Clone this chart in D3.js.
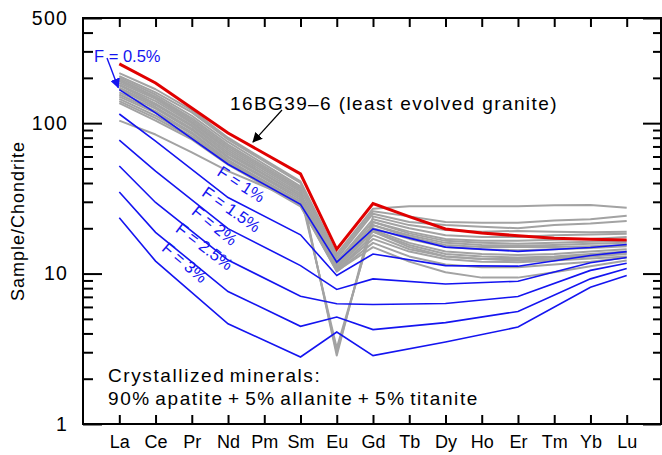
<!DOCTYPE html>
<html>
<head>
<meta charset="utf-8">
<script src="https://cdn.jsdelivr.net/npm/d3@7"></script>
<style>
  body { margin: 0; background: #fff; }
  svg { display: block; font-family: Arial, "Liberation Sans", sans-serif; }
</style>
</head>
<body>
<svg id="chart" width="662" height="455"></svg>
<script>
// REE order on the x axis
const elements = ["La", "Ce", "Pr", "Nd", "Pm", "Sm", "Eu", "Gd", "Tb", "Dy", "Ho", "Er", "Tm", "Yb", "Lu"];
const yMajor = [1, 10, 100, 500];
const yMinor = [2, 3, 4, 5, 6, 7, 8, 9, 20, 30, 40, 50, 60, 70, 80, 90, 200, 300, 400];

// 16BG39-6, least evolved granite
const leastEvolved = [248, 185, 126, 86, null, 46, 14.5, 29.2, 23.9, 19.8, 18.6, 17.85, 17.2, 16.9, 16.7];

// other granite samples (grey)
const graniteSamples = [
  [215, 168, 122, 80, null, 41, 13.5, 27, 28, 28, 28, 28, 28.5, 28.6, 27.4],
  [205, 160, 118, 78, null, 40, 13, 26, 24, 22, 21.8, 21.8, 22.5, 23, 24.2],
  [200, 155, 112, 75, null, 38, 12.5, 25, 22, 21, 20.5, 20, 21, 21.5, 22.4],
  [195, 150, 108, 72, null, 37, 2.85, 24, 21, 19.5, 19, 19.2, 19, 18.8, 19],
  [190, 148, 105, 70, null, 36, 12, 23, 20, 18, 17.5, 17.5, 18, 18.2, 18.4],
  [185, 145, 102, 68, null, 35, 3.0, 22, 19, 17, 16.5, 16.5, 16.8, 17, 17.5],
  [180, 140, 100, 66, null, 34, 11.8, 22, 18.5, 16.5, 16, 15.8, 16, 16.3, 16.5],
  [178, 135, 97, 64, null, 33, 11.5, 21, 18, 16, 15.5, 15.3, 15.5, 15.8, 16],
  [172, 132, 95, 62, null, 33, 3.2, 21, 17.5, 15.5, 15, 15, 15, 15.2, 15.5],
  [168, 128, 92, 60, null, 32, 11.2, 20, 17, 15, 14.5, 14.3, 14.5, 14.8, 15.2],
  [160, 125, 90, 59, null, 31, 11, 19.5, 16, 14, 13.5, 13.3, 13.5, 14, 14.5],
  [155, 120, 87, 57, null, 30, 10.8, 19, 15.5, 13.5, 13, 12.8, 13, 13.5, 14],
  [150, 117, 85, 56, null, 30, 10.5, 18, 14.5, 13, 12.5, 12.2, 12.5, 13, 13.5],
  [145, 112, 82, 55, null, 29, 10.5, 17, 14, 12.5, 12, 11.9, 12.2, 12.6, 13],
  [140, 108, 80, 54, null, 28.5, 10.3, 16, 13, 11.5, 11, 11, 11.5, 12, 12.8],
  [136, 104, 78, 53, null, 28, 10.4, 15, 12, 10.2, 9.4, 9.4, 10.2, 11.2, 12.2],
  [104, 84, 64, 48, null, 30, 11, 19, 15, 13, 12.5, 12.5, 12.8, 13.2, 13.8]
];

// fractional crystallization models (blue)
const modelLabels = ["F = 0.5%", "F = 1%", "F = 1.5%", "F = 2%", "F = 2.5%", "F = 3%"];
const modelValues = [
  [167, 117, null, 53.3, null, 28.9, 11.9, 19.8, null, 15.0, null, 14.05, null, 14.9, 15.6],
  [115, 76, null, 32.0, null, 18.1, 9.7, 13.5, null, 11.3, null, 11.2, null, 13.2, 14.0],
  [77, 48, null, 19.9, null, 11.3, 7.84, 9.22, null, 8.52, null, 8.89, null, 11.8, 12.8],
  [51.9, 29.7, null, 12.3, null, 7.07, 6.3, 6.23, null, 6.33, null, 7.04, null, 10.5, 11.7],
  [34.9, 18.8, null, 7.6, null, 4.46, 5.14, 4.24, null, 4.72, null, 5.6, null, 9.22, 10.8],
  [23.5, 12.1, null, 4.64, null, 2.79, 4.09, 2.85, null, 3.51, null, 4.41, null, 8.12, 9.7]
];

const svg = d3.select("#chart");
const frame = { left: 83, right: 661, top: 18, bottom: 424 };

const x = d3.scalePoint().domain(elements).range([119.3, 626.7]);
const y = d3.scaleLog().domain([1, 500]).range([frame.bottom, frame.top]);

const line = d3.line()
  .x(d => x(d.el))
  .y(d => y(d.v));

function toPoints(values) {
  return elements.map((el, i) => ({ el, v: values[i] })).filter(d => d.v != null);
}

// grey samples
svg.append("g")
  .selectAll("path")
  .data(graniteSamples)
  .enter().append("path")
  .attr("d", d => line(toPoints(d)))
  .attr("fill", "none")
  .attr("stroke", "#a3a3a3")
  .attr("stroke-width", 2)
  .attr("stroke-linejoin", "round");

// model curves
svg.append("g")
  .selectAll("path")
  .data(modelValues)
  .enter().append("path")
  .attr("d", d => line(toPoints(d)))
  .attr("fill", "none")
  .attr("stroke", "#1414f0")
  .attr("stroke-width", 1.6);

// red sample
svg.append("path")
  .attr("d", line(toPoints(leastEvolved)))
  .attr("fill", "none")
  .attr("stroke", "#e00000")
  .attr("stroke-width", 3);

// axes, ticks pointing inward
const gx = svg.append("g").attr("transform", `translate(0,${frame.bottom})`)
  .call(d3.axisBottom(x).tickSizeInner(-9).tickSizeOuter(0).tickPadding(11));
const gxTop = svg.append("g").attr("transform", `translate(0,${frame.top})`)
  .call(d3.axisTop(x).tickSizeInner(-9).tickSizeOuter(0).tickFormat(""));

const gy = svg.append("g").attr("transform", `translate(${frame.left},0)`)
  .call(d3.axisLeft(y).tickValues(yMajor).tickFormat(d3.format("d")).tickSizeInner(-19).tickSizeOuter(0).tickPadding(15));
const gyMinor = svg.append("g").attr("transform", `translate(${frame.left},0)`)
  .call(d3.axisLeft(y).tickValues(yMinor).tickFormat("").tickSizeInner(-10).tickSizeOuter(0));
const gyR = svg.append("g").attr("transform", `translate(${frame.right},0)`)
  .call(d3.axisRight(y).tickValues(yMajor).tickFormat("").tickSizeInner(-18).tickSizeOuter(0));
const gyRMinor = svg.append("g").attr("transform", `translate(${frame.right},0)`)
  .call(d3.axisRight(y).tickValues(yMinor).tickFormat("").tickSizeInner(-8).tickSizeOuter(0));

[gx, gxTop, gy, gyMinor, gyR, gyRMinor].forEach(g => {
  g.select(".domain").remove();
  g.selectAll(".tick line").attr("stroke", "#000").attr("stroke-width", 2);
});
gx.selectAll("text").attr("font-size", 18).attr("fill", "#000").attr("font-family", "Arial, Liberation Sans, sans-serif");
gy.selectAll("text").attr("font-size", 19.5).attr("fill", "#000").attr("font-family", "Arial, Liberation Sans, sans-serif")
  .style("letter-spacing", "1.2px");

svg.append("rect")
  .attr("x", frame.left).attr("y", frame.top)
  .attr("width", frame.right - frame.left).attr("height", frame.bottom - frame.top)
  .attr("fill", "none").attr("stroke", "#000").attr("stroke-width", 2);

svg.append("text")
  .attr("transform", `translate(24,${(frame.top + frame.bottom) / 2}) rotate(-90)`)
  .attr("text-anchor", "middle")
  .attr("font-size", 18)
  .style("letter-spacing", "1px")
  .text("Sample/Chondrite");

// arrowheads
const defs = svg.append("defs");
[["arrowBlue", "#1414f0"], ["arrowBlack", "#000"]].forEach(([id, c]) => {
  defs.append("marker")
    .attr("id", id)
    .attr("viewBox", "0 0 10 10")
    .attr("refX", 9).attr("refY", 5)
    .attr("markerWidth", 10).attr("markerHeight", 10)
    .attr("markerUnits", "userSpaceOnUse")
    .attr("orient", "auto")
    .append("path").attr("d", "M0,0L10,5L0,10Z").attr("fill", c);
});

// F = 0.5% label and arrow to its La point
svg.append("text")
  .attr("x", 94).attr("y", 62)
  .attr("font-size", 16.5)
  .attr("fill", "#1414f0")
  .text(modelLabels[0]);
svg.append("line")
  .attr("x1", 107).attr("y1", 58)
  .attr("x2", x("La") - 1).attr("y2", y(modelValues[0][0]) - 2)
  .attr("stroke", "#1414f0").attr("stroke-width", 1.4)
  .attr("marker-end", "url(#arrowBlue)");

// rotated model labels
const labelPos = [null, [238, 189, 33], [228, 214, 35], [211, 230, 39], [201, 251, 37], [181, 267, 40]];
labelPos.forEach((p, i) => {
  if (!p) return;
  svg.append("text")
    .attr("transform", `translate(${p[0]},${p[1]}) rotate(${p[2]})`)
    .attr("text-anchor", "middle")
    .attr("font-size", 16.5)
    .attr("fill", "#1414f0")
    .text(modelLabels[i]);
});

// sample annotation
svg.append("text")
  .attr("x", 230).attr("y", 110)
  .attr("font-size", 19)
  .style("letter-spacing", "1.4px")
  .text("16BG39\u20136 (least evolved granite)");
svg.append("line")
  .attr("x1", 282).attr("y1", 110)
  .attr("x2", 253).attr("y2", 142)
  .attr("stroke", "#000").attr("stroke-width", 1.2)
  .attr("marker-end", "url(#arrowBlack)");

// mineral assemblage note
const note = svg.append("text")
  .attr("font-size", 19)
  .style("letter-spacing", "1.6px")
  .style("word-spacing", "-2.4px");
note.append("tspan").attr("x", 108).attr("y", 382).text("Crystallized minerals:");
note.append("tspan").attr("x", 108).attr("y", 405).text("90% apatite + 5% allanite + 5% titanite");
</script>
</body>
</html>
